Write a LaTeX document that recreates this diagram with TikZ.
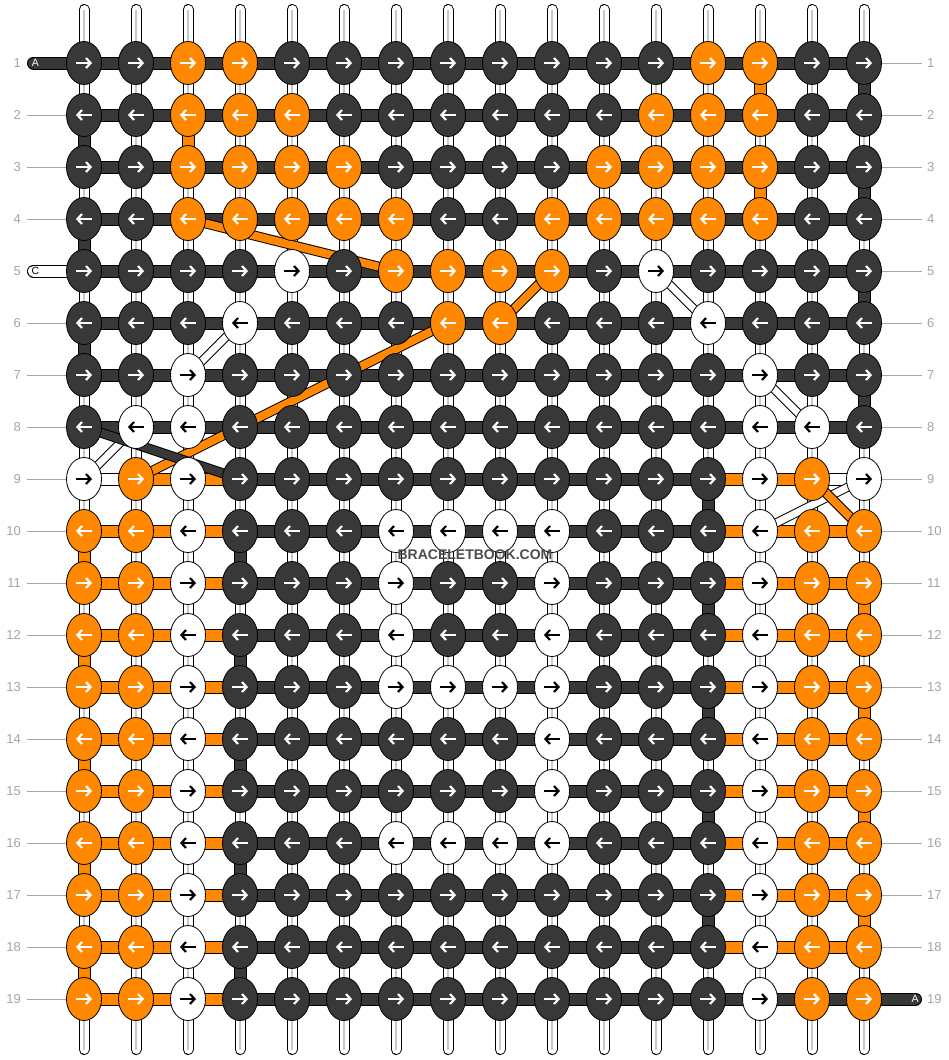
\documentclass[tikz,border=0pt]{standalone}
\usepackage{fontspec}
\setmainfont{Liberation Sans}
\usetikzlibrary{shapes.geometric}
\usetikzlibrary{arrows.meta}
\definecolor{fadendunkel}{RGB}{56,56,56}
\definecolor{fadenorange}{RGB}{255,136,0}
\definecolor{beschriftung}{RGB}{165,165,165}
\definecolor{basismitte}{RGB}{200,200,200}
\colorlet{knoten-d}{fadendunkel}
\colorlet{knoten-o}{fadenorange}
\colorlet{knoten-w}{white}
\colorlet{pfeil-d}{white}
\colorlet{pfeil-o}{white}
\colorlet{pfeil-w}{black}

\begin{document}
\begin{tikzpicture}[x=1pt, y=-1pt,
    knoten/.style={ellipse, draw=black, line width=0.8pt, minimum width=35pt, minimum height=43pt, inner sep=0pt},
    faden/.style={line width=1pt, draw=black, double=#1, double distance=11pt},
    schraeg/.style={line width=1pt, draw=black, double=#1, double distance=8pt, line join=round},
    basis/.style={line width=1pt, draw=black, double=white, double distance=9pt, line cap=round},
    pfeil/.style={line width=2.2pt, -{Straight Barb[length=4.5pt,width=10pt]}},
    nummer/.style={text=beschriftung, font=\fontsize{13}{13}\selectfont, inner sep=0pt},
    leitung/.style={draw=beschriftung, line width=1pt}]

    \fill[white] (0,0) rectangle (948,1060);
    \useasboundingbox (0,0) rectangle (948,1060);

    \foreach \r in {1,...,19}{
        \foreach \c in {1,...,16}{
            \coordinate (P\r-\c) at ({84+52*(\c-1)},{63+52*(\r-1)});
        }
    }

    \foreach \c in {1,...,16}{
        \coordinate (T\c) at ({84+52*(\c-1)},9.5);
        \coordinate (B\c) at ({84+52*(\c-1)},1049.5);
        \draw[basis] (T\c) -- (B\c);
        \draw[basismitte, line width=1.2pt] (T\c) -- (B\c);
    }

    \foreach \r in {1,...,19}{
        \node[nummer, anchor=east] (L\r) at (21,{63+52*(\r-1)}) {\r};
        \node[nummer, anchor=west] (R\r) at (927,{63+52*(\r-1)}) {\r};
    }
    \foreach \r in {2,3,4,6,7,...,19}
        \draw[leitung] ([xshift=6pt]L\r.east) -- (P\r-1);
    \foreach \r in {1,...,18}
        \draw[leitung] (P\r-16) -- ([xshift=-5pt]R\r.west);

    \foreach \r in {1,...,8}
        \draw[faden=fadendunkel] (P\r-1) -- (P\r-16);
    \draw[faden=white] (P9-1) -- (P9-2);
    \draw[faden=fadenorange] (P9-2) -- (P9-4);
    \draw[faden=fadendunkel] (P9-4) -- (P9-13);
    \draw[faden=fadenorange] (P9-13) -- (P9-15);
    \draw[faden=white] (P9-15) -- (P9-16);
    \foreach \r in {10,...,18}{
        \draw[faden=fadenorange] (P\r-1) -- (P\r-4);
        \draw[faden=fadendunkel] (P\r-4) -- (P\r-13);
        \draw[faden=fadenorange] (P\r-13) -- (P\r-16);
    }
    \draw[faden=fadenorange] (P19-1) -- (P19-4);

    \coordinate (startA) at (33.5,63);
    \coordinate (startC) at (33.5,271);
    \coordinate (endeA) at (915.5,999);
    \draw[faden=fadendunkel, line cap=round] (startA) -- (P1-1);
    \draw[faden=white, line cap=round] (startC) -- (P5-1);
    \draw[faden=fadendunkel, line cap=round] (P19-4) -- (endeA);
    \node[text=white, font=\fontsize{10.5}{10.5}\selectfont, inner sep=0pt] (tagA) at (35.5,63) {A};
    \node[text=black, font=\fontsize{10.5}{10.5}\selectfont, inner sep=0pt] (tagC) at (35.5,271) {C};
    \node[text=white, font=\fontsize{10.5}{10.5}\selectfont, inner sep=0pt] (tagZ) at (915,999) {A};

    \foreach \r/\c/\farbe in {2/1/fadendunkel, 4/1/fadendunkel, 6/1/fadendunkel,
        1/16/fadendunkel, 3/16/fadendunkel, 5/16/fadendunkel, 7/16/fadendunkel,
        2/3/fadenorange, 1/14/fadenorange, 3/14/fadenorange, 9/13/fadendunkel}{
            \pgfmathtruncatemacro\n{\r+1}
            \draw[faden=\farbe] (P\r-\c) -- (P\n-\c);
        }
    \foreach \r in {10,12,...,18}{
        \pgfmathtruncatemacro\n{\r+1}
        \draw[faden=fadenorange] (P\r-1) -- (P\n-1);
        \draw[faden=fadendunkel] (P\r-4) -- (P\n-4);
    }
    \foreach \r in {11,13,...,17}{
        \pgfmathtruncatemacro\n{\r+1}
        \draw[faden=fadenorange] (P\r-16) -- (P\n-16);
        \draw[faden=fadendunkel] (P\r-13) -- (P\n-13);
    }

    \foreach \a/\b in {6-4/7-3, 8-2/9-1, 5-12/6-13, 7-14/8-15, 9-16/10-14}
        \draw[schraeg=white, double distance=7pt] (P\a) -- (P\b);
    \draw[schraeg=fadenorange] (P4-3) -- (P5-7);
    \draw[schraeg=fadenorange] (P9-2) -- (P8-4) -- (P7-6) -- (P6-8);
    \draw[schraeg=fadenorange] (P6-9) -- (P5-10);
    \draw[schraeg=fadenorange] (P9-15) -- (P10-16);
    \draw[schraeg=fadendunkel] (P8-1) -- (P9-4);

    \foreach \r/\reihe in {
        1/{d,d,o,o,d,d,d,d,d,d,d,d,o,o,d,d},
        2/{d,d,o,o,o,d,d,d,d,d,d,o,o,o,d,d},
        3/{d,d,o,o,o,o,d,d,d,d,o,o,o,o,d,d},
        4/{d,d,o,o,o,o,o,d,d,o,o,o,o,o,d,d},
        5/{d,d,d,d,w,d,o,o,o,o,d,w,d,d,d,d},
        6/{d,d,d,w,d,d,d,o,o,d,d,d,w,d,d,d},
        7/{d,d,w,d,d,d,d,d,d,d,d,d,d,w,d,d},
        8/{d,w,w,d,d,d,d,d,d,d,d,d,d,w,w,d},
        9/{w,o,w,d,d,d,d,d,d,d,d,d,d,w,o,w},
        10/{o,o,w,d,d,d,w,w,w,w,d,d,d,w,o,o},
        11/{o,o,w,d,d,d,w,d,d,w,d,d,d,w,o,o},
        12/{o,o,w,d,d,d,w,d,d,w,d,d,d,w,o,o},
        13/{o,o,w,d,d,d,w,w,w,w,d,d,d,w,o,o},
        14/{o,o,w,d,d,d,d,d,d,w,d,d,d,w,o,o},
        15/{o,o,w,d,d,d,d,d,d,w,d,d,d,w,o,o},
        16/{o,o,w,d,d,d,w,w,w,w,d,d,d,w,o,o},
        17/{o,o,w,d,d,d,d,d,d,d,d,d,d,w,o,o},
        18/{o,o,w,d,d,d,d,d,d,d,d,d,d,w,o,o},
        19/{o,o,w,d,d,d,d,d,d,d,d,d,d,w,o,o}}{
        \ifodd\r\relax \def\xa{-8pt}\def\xb{8pt}\else \def\xa{8pt}\def\xb{-8pt}\fi
        \foreach \k [count=\c] in \reihe {
            \node[knoten, fill=knoten-\k] (K\r-\c) at (P\r-\c) {};
            \draw[pfeil, draw=pfeil-\k] ([xshift=\xa]K\r-\c.center) -- ([xshift=\xb]K\r-\c.center);
        }
    }

    \node[text=black!70, font=\fontsize{14}{14}\selectfont\bfseries, inner sep=0pt] (marke) at (475,555) {BRACELETBOOK.COM};

\end{tikzpicture}
\end{document}
